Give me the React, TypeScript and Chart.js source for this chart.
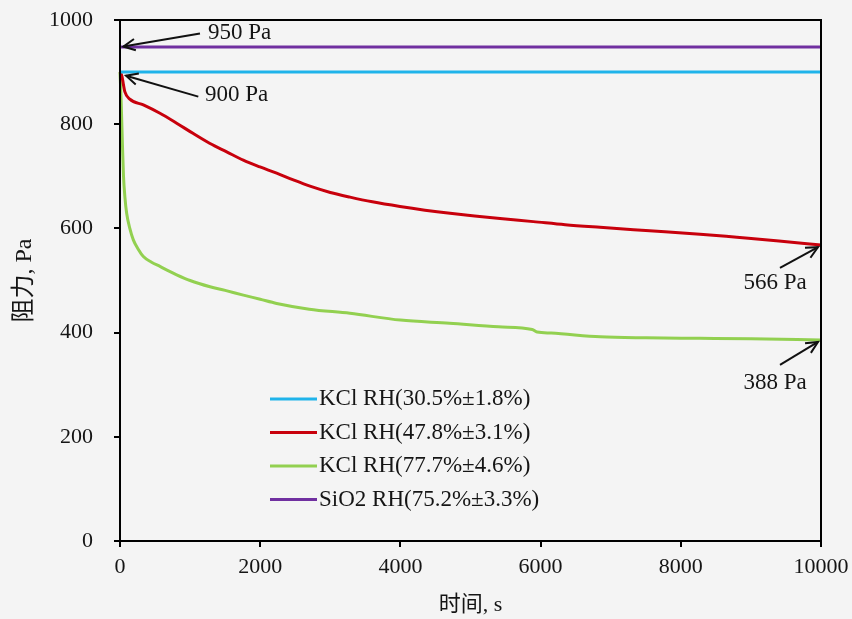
import React, { useEffect, useRef } from 'react';
import { Chart, registerables } from 'chart.js';

Chart.register(...registerables);

// ---- Data ----
const seriesLabels = [
  'KCl RH(30.5%±1.8%)',
  'KCl RH(47.8%±3.1%)',
  'KCl RH(77.7%±4.6%)',
  'SiO2 RH(75.2%±3.3%)',
];
const seriesColors = ['#1fb3ea', '#c8000c', '#92d050', '#7030a0'];

const kcl30Time = [0, 2000, 4000, 6000, 8000, 10000];
const kcl30Values = [900, 900, 900, 900, 900, 900];

const kcl48Time = [0, 25, 70, 140, 333, 570, 808, 1046, 1284, 1522, 1759, 1997, 2235, 2473, 2710, 3000, 3281, 3600, 3994, 4350, 4708, 5060, 5421, 5896, 6350, 6847, 7500, 8274, 8800, 9400, 10000];
const kcl48Values = [900, 893, 862, 848, 837, 821, 802, 782, 763, 747, 731, 718, 706, 693, 681, 669, 660, 651, 642, 635, 629, 624, 619, 613, 607, 602, 596, 589, 583, 576, 568];

const kcl78Time = [0, 15, 35, 50, 70, 95, 140, 190, 260, 333, 450, 570, 700, 808, 1000, 1284, 1500, 1760, 2000, 2235, 2700, 3280, 4000, 4700, 5400, 5880, 5950, 6150, 6850, 7500, 8270, 9000, 10000];
const kcl78Values = [900, 850, 760, 700, 660, 629, 600, 578, 560, 546, 535, 527, 518, 511, 500, 488, 481, 472, 464, 456, 445, 437, 424, 418, 411, 406, 401, 399, 392, 390, 389, 388, 386];

const sio2Time = [0, 2000, 4000, 6000, 8000, 10000];
const sio2Values = [948, 948, 948, 948, 948, 948];

const xTicks = [0, 2000, 4000, 6000, 8000, 10000];
const yTicks = [0, 200, 400, 600, 800, 1000];

const annotationTexts = ['950 Pa', '900 Pa', '566 Pa', '388 Pa'];
// arrow tail / tip and label anchor in data units
const annotationTail = [[1141, 974], [1117, 853], [9415, 524], [9415, 338]];
const annotationTip = [[48, 949], [86, 893], [9957, 564], [9957, 382]];
const annotationLabelAt = [[1255, 976], [1212, 856], [9344, 495], [9344, 303]];
const annotationAlign: CanvasTextAlign[] = ['left', 'left', 'center', 'center'];

const SERIF = '"Liberation Serif", "Times New Roman", "Noto Sans CJK SC", serif';
const TEXT = '#151515';
const BG = '#f4f4f4';
const TICK_MARK = 6;

const toPoints = (t: number[], v: number[]) => t.map((x, i) => ({ x, y: v[i] }));

const bgPlugin = {
  id: 'bg',
  beforeDraw(chart: any) {
    const { ctx, width, height } = chart;
    ctx.save();
    ctx.fillStyle = BG;
    ctx.fillRect(0, 0, width, height);
    ctx.restore();
  },
};

const framePlugin = {
  id: 'frame',
  afterDatasetsDraw(chart: any) {
    const { ctx, chartArea } = chart;
    const xs = chart.scales.x;
    const ys = chart.scales.y;
    ctx.save();
    ctx.strokeStyle = '#000';
    ctx.lineWidth = 2;
    ctx.strokeRect(chartArea.left, chartArea.top, chartArea.right - chartArea.left, chartArea.bottom - chartArea.top);
    ctx.beginPath();
    yTicks.forEach((v) => {
      const y = Math.round(ys.getPixelForValue(v));
      ctx.moveTo(chartArea.left - TICK_MARK, y);
      ctx.lineTo(chartArea.left, y);
    });
    xTicks.forEach((v) => {
      const x = Math.round(xs.getPixelForValue(v));
      ctx.moveTo(x, chartArea.bottom);
      ctx.lineTo(x, chartArea.bottom + TICK_MARK);
    });
    ctx.stroke();
    ctx.restore();
  },
};

const annotationPlugin = {
  id: 'arrows',
  afterDatasetsDraw(chart: any) {
    const { ctx } = chart;
    const xs = chart.scales.x;
    const ys = chart.scales.y;
    ctx.save();
    ctx.strokeStyle = '#111';
    ctx.fillStyle = TEXT;
    ctx.lineWidth = 2;
    annotationTexts.forEach((txt, i) => {
      const x1 = xs.getPixelForValue(annotationTail[i][0]);
      const y1 = ys.getPixelForValue(annotationTail[i][1]);
      const x2 = xs.getPixelForValue(annotationTip[i][0]);
      const y2 = ys.getPixelForValue(annotationTip[i][1]);
      ctx.beginPath();
      ctx.moveTo(x1, y1);
      ctx.lineTo(x2, y2);
      ctx.stroke();
      const ang = Math.atan2(y2 - y1, x2 - x1);
      const L = 13;
      const spread = 0.45;
      ctx.beginPath();
      ctx.moveTo(x2 - L * Math.cos(ang - spread), y2 - L * Math.sin(ang - spread));
      ctx.lineTo(x2, y2);
      ctx.lineTo(x2 - L * Math.cos(ang + spread), y2 - L * Math.sin(ang + spread));
      ctx.stroke();
      ctx.font = `23px ${SERIF}`;
      ctx.textAlign = annotationAlign[i];
      ctx.textBaseline = 'middle';
      ctx.fillText(txt, xs.getPixelForValue(annotationLabelAt[i][0]), ys.getPixelForValue(annotationLabelAt[i][1]));
    });
    ctx.restore();
  },
};

const legendPlugin = {
  id: 'customLegend',
  afterDraw(chart: any) {
    const { ctx, chartArea } = chart;
    const x0 = chartArea.left + 150;
    const y0 = chartArea.top + 379;
    const row = 33.5;
    ctx.save();
    ctx.font = `23px ${SERIF}`;
    ctx.textAlign = 'left';
    ctx.textBaseline = 'middle';
    chart.data.datasets.forEach((ds: any, i: number) => {
      const y = y0 + i * row;
      ctx.strokeStyle = ds.borderColor;
      ctx.lineWidth = 3;
      ctx.beginPath();
      ctx.moveTo(x0, y);
      ctx.lineTo(x0 + 47, y);
      ctx.stroke();
      ctx.fillStyle = TEXT;
      ctx.fillText(ds.label, x0 + 49, y);
    });
    ctx.restore();
  },
};

export default function App() {
  const canvasRef = useRef<HTMLCanvasElement | null>(null);

  useEffect(() => {
    document.body.style.margin = '0';
    document.body.style.background = BG;
    const canvas = canvasRef.current;
    if (!canvas) return;
    const seriesTimes = [kcl30Time, kcl48Time, kcl78Time, sio2Time];
    const seriesValues = [kcl30Values, kcl48Values, kcl78Values, sio2Values];
    const chart = new Chart(canvas, {
      type: 'line',
      data: {
        datasets: seriesLabels.map((label, i) => ({
          label,
          data: toPoints(seriesTimes[i], seriesValues[i]),
          borderColor: seriesColors[i],
          backgroundColor: seriesColors[i],
          borderWidth: 3,
          pointRadius: 0,
          cubicInterpolationMode: 'monotone' as const,
          fill: false,
          clip: 4,
        })),
      },
      options: {
        animation: false,
        responsive: true,
        maintainAspectRatio: false,
        layout: { padding: { top: 20, right: 31, left: 0, bottom: 0 } },
        plugins: {
          legend: { display: false },
          tooltip: { enabled: false },
        },
        scales: {
          x: {
            type: 'linear',
            min: 0,
            max: 10000,
            afterFit(scale: any) { scale.height = 78; },
            afterBuildTicks(scale: any) { scale.ticks = xTicks.map((v) => ({ value: v })); },
            border: { display: false },
            grid: { drawOnChartArea: false, drawTicks: true, tickLength: 13, tickColor: 'rgba(0,0,0,0)' },
            ticks: { color: TEXT, font: { family: SERIF, size: 22 }, padding: 0, maxRotation: 0, callback: (v: any) => String(v) },
            title: {
              display: true,
              text: '时间, s',
              color: TEXT,
              font: { family: SERIF, size: 22 },
              padding: { top: 0, bottom: 1 },
            },
          },
          y: {
            type: 'linear',
            min: 0,
            max: 1000,
            afterFit(scale: any) { scale.width = 120; },
            afterBuildTicks(scale: any) { scale.ticks = yTicks.map((v) => ({ value: v })); },
            border: { display: false },
            grid: { drawOnChartArea: false, drawTicks: true, tickLength: 27, tickColor: 'rgba(0,0,0,0)' },
            ticks: { color: TEXT, font: { family: SERIF, size: 22 }, padding: 0, callback: (v: any) => String(v) },
            title: {
              display: true,
              text: '阻力, Pa',
              color: TEXT,
              font: { family: SERIF, size: 24 },
              padding: { top: 10, bottom: 0 },
            },
          },
        },
      },
      plugins: [bgPlugin, framePlugin, annotationPlugin, legendPlugin],
    });
    return () => chart.destroy();
  }, []);

  return (
    <div style={{ width: 852, height: 619, position: 'relative' }}>
      <canvas ref={canvasRef} />
    </div>
  );
}
